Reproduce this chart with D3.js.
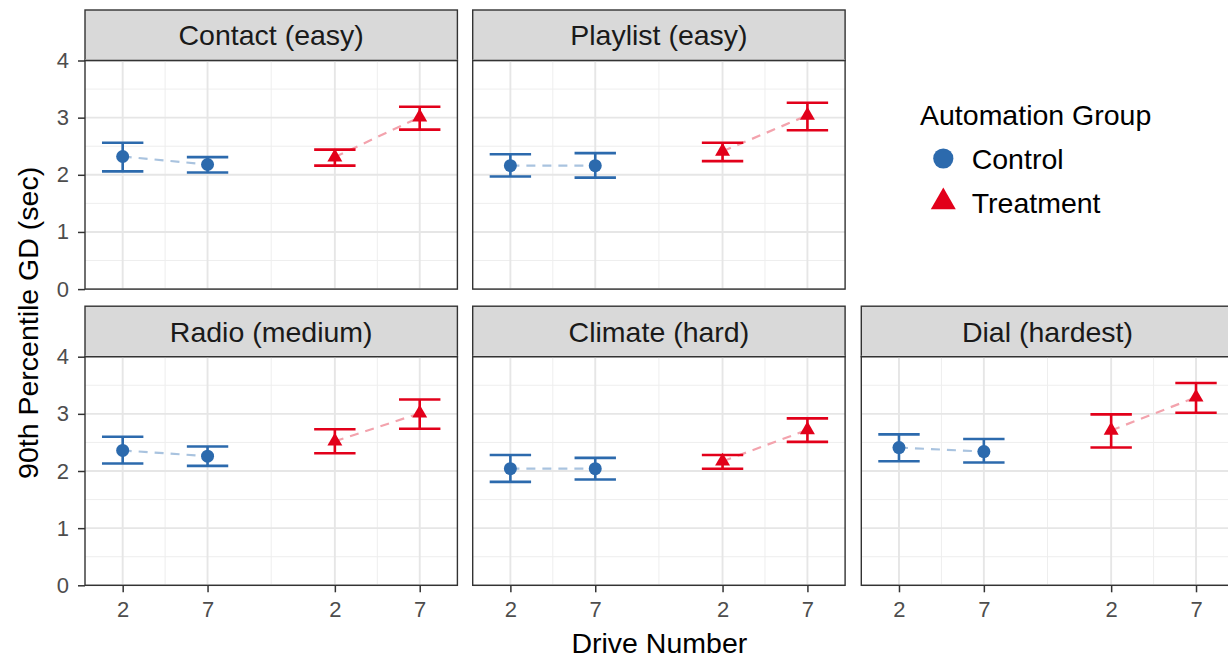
<!DOCTYPE html>
<html>
<head>
<meta charset="utf-8">
<script src="https://cdn.jsdelivr.net/npm/d3@7"></script>
<style>
  body { margin: 0; background: #fff; overflow: hidden; }
  text { font-family: "Liberation Sans", Arial, Helvetica, sans-serif; }
</style>
</head>
<body>
<svg id="chart" width="1228" height="657"></svg>
<script>
// data: per task, values in order [Control 2, Control 7, Treatment 2, Treatment 7]
const tasks = ["Contact (easy)", "Playlist (easy)", "Radio (medium)", "Climate (hard)", "Dial (hardest)"];
const groups = ["Control", "Treatment"];
const drives = [2, 7];
const gdMean = [
  [2.32, 2.18, 2.31, 3.01],
  [2.16, 2.16, 2.41, 3.04],
  [2.36, 2.26, 2.52, 3.01],
  [2.04, 2.04, 2.17, 2.72],
  [2.41, 2.34, 2.71, 3.29]
];
const gdLow = [
  [2.06, 2.04, 2.16, 2.79],
  [1.97, 1.95, 2.24, 2.78],
  [2.13, 2.09, 2.31, 2.74],
  [1.81, 1.85, 2.04, 2.51],
  [2.17, 2.15, 2.41, 3.02]
];
const gdHigh = [
  [2.56, 2.31, 2.44, 3.19],
  [2.36, 2.38, 2.56, 3.26],
  [2.60, 2.43, 2.73, 3.25],
  [2.28, 2.23, 2.28, 2.92],
  [2.64, 2.56, 2.99, 3.54]
];
const yTicks = [0, 1, 2, 3, 4];

const groupColor = ["#2c6aad", "#e2001a"];
const lineColor = ["#a9c3df", "#f3a3ad"];

// layout
const panelW = 372.4, panelH = 228.6, stripH = 50.5;
const colX = [85, 472.7, 861.3];
const rowY = [60.5, 356.7]; // top of plotting area
const groupShift = 12.5;   // gap between the two groups on the x axis

const svg = d3.select("#chart");

const x = d3.scaleLinear().domain([-0.22, 21.72]).range([0, panelW]);
const y = d3.scaleLinear().domain([0, 4]).range([panelH, 0]);

// long table
const rows = [];
tasks.forEach((t, ti) => {
  groups.forEach((g, gi) => {
    drives.forEach((d, di) => {
      const k = gi * 2 + di;
      rows.push({ task: t, ti, group: g, gi, drive: d, xv: d + gi * groupShift,
        mean: gdMean[ti][k], lo: gdLow[ti][k], hi: gdHigh[ti][k] });
    });
  });
});

const majorX = [];
groups.forEach((g, gi) => drives.forEach(d => majorX.push(d + gi * groupShift)));
const minorX = d3.pairs(majorX).map(([a, b]) => (a + b) / 2);
const minorY = d3.pairs(yTicks).map(([a, b]) => (a + b) / 2);

const circleSym = d3.symbol(d3.symbolCircle, 133);
const triSym = d3.symbol(d3.symbolTriangle, 97);
const capHalf = 20.7;

tasks.forEach((task, ti) => {
  const row = ti < 2 ? 0 : 1;
  const col = ti < 2 ? ti : ti - 2;
  const px = colX[col], py = rowY[row];
  const g = svg.append("g").attr("transform", `translate(${px},${py})`);
  const data = rows.filter(r => r.ti === ti);

  // strip
  g.append("rect")
    .attr("x", 0).attr("y", -stripH)
    .attr("width", panelW).attr("height", stripH)
    .attr("fill", "#d9d9d9").attr("stroke", "#333").attr("stroke-width", 1.4);
  g.append("text")
    .attr("x", panelW / 2).attr("y", -stripH / 2 + 0.358 * 28.5)
    .attr("text-anchor", "middle")
    .attr("font-size", 28.5).attr("fill", "#1a1a1a")
    .text(task);

  // grid
  g.selectAll(".minx").data(minorX).enter().append("line")
    .attr("x1", d => x(d)).attr("x2", d => x(d)).attr("y1", 0).attr("y2", panelH)
    .attr("stroke", "#eeeeee").attr("stroke-width", 1);
  g.selectAll(".miny").data(minorY).enter().append("line")
    .attr("x1", 0).attr("x2", panelW).attr("y1", d => y(d)).attr("y2", d => y(d))
    .attr("stroke", "#eeeeee").attr("stroke-width", 1);
  g.selectAll(".majx").data(majorX).enter().append("line")
    .attr("x1", d => x(d)).attr("x2", d => x(d)).attr("y1", 0).attr("y2", panelH)
    .attr("stroke", "#e6e6e6").attr("stroke-width", 1.9);
  g.selectAll(".majy").data(yTicks).enter().append("line")
    .attr("x1", 0).attr("x2", panelW).attr("y1", d => y(d)).attr("y2", d => y(d))
    .attr("stroke", "#e6e6e6").attr("stroke-width", 1.9);

  // dashed connecting lines
  const line = d3.line().x(d => x(d.xv)).y(d => y(d.mean));
  groups.forEach((grp, gi) => {
    g.append("path")
      .datum(data.filter(d => d.gi === gi))
      .attr("d", line)
      .attr("fill", "none")
      .attr("stroke", lineColor[gi])
      .attr("stroke-width", 2.2)
      .attr("stroke-dasharray", "9,7");
  });

  // error bars
  const eb = g.selectAll(".eb").data(data).enter().append("g")
    .attr("stroke", d => groupColor[d.gi]).attr("stroke-width", 2.6);
  eb.append("line")
    .attr("x1", d => x(d.xv)).attr("x2", d => x(d.xv))
    .attr("y1", d => y(d.lo)).attr("y2", d => y(d.hi));
  eb.append("line")
    .attr("x1", d => x(d.xv) - capHalf).attr("x2", d => x(d.xv) + capHalf)
    .attr("y1", d => y(d.hi)).attr("y2", d => y(d.hi));
  eb.append("line")
    .attr("x1", d => x(d.xv) - capHalf).attr("x2", d => x(d.xv) + capHalf)
    .attr("y1", d => y(d.lo)).attr("y2", d => y(d.lo));

  // points
  g.selectAll(".pt").data(data).enter().append("path")
    .attr("transform", d => `translate(${x(d.xv)},${y(d.mean)})`)
    .attr("d", d => d.gi === 0 ? circleSym() : triSym())
    .attr("fill", d => groupColor[d.gi]);

  // panel border
  g.append("rect")
    .attr("width", panelW).attr("height", panelH)
    .attr("fill", "none").attr("stroke", "#333").attr("stroke-width", 1.4);

  // y axis on first column
  if (col === 0) {
    const ya = g.append("g").call(d3.axisLeft(y).tickValues(yTicks).tickFormat(d3.format("d"))
      .tickSize(7).tickPadding(9));
    ya.select(".domain").remove();
    ya.selectAll(".tick line").attr("stroke", "#333").attr("stroke-width", 1.5);
    ya.selectAll(".tick text").attr("font-size", 22).attr("fill", "#4d4d4d")
      .attr("font-family", "Liberation Sans, Arial, sans-serif");
  }
  // x axis on bottom row
  if (row === 1) {
    const xa = g.append("g").attr("transform", `translate(0,${panelH})`)
      .call(d3.axisBottom(x).tickValues(majorX).tickFormat((v, i) => drives[i % drives.length])
        .tickSize(7).tickPadding(9.4));
    xa.select(".domain").remove();
    xa.selectAll(".tick line").attr("stroke", "#333").attr("stroke-width", 1.5);
    xa.selectAll(".tick text").attr("font-size", 22).attr("fill", "#4d4d4d")
      .attr("font-family", "Liberation Sans, Arial, sans-serif");
  }
});

// axis titles
svg.append("text")
  .attr("x", colX[0] + (colX[2] + panelW - colX[0]) / 2)
  .attr("y", 652.5)
  .attr("text-anchor", "middle")
  .attr("font-size", 28.5).attr("fill", "#000")
  .text("Drive Number");

svg.append("text")
  .attr("transform", `translate(37.5,${(rowY[0] + rowY[1] + panelH) / 2}) rotate(-90)`)
  .attr("text-anchor", "middle")
  .attr("font-size", 28.5).attr("fill", "#000")
  .text("90th Percentile GD (sec)");

// legend
const legend = svg.append("g").attr("transform", "translate(920,0)");
legend.append("text")
  .attr("x", 0).attr("y", 125)
  .attr("font-size", 28.5).attr("fill", "#000")
  .text("Automation Group");
const legSym = [d3.symbol(d3.symbolCircle, 320), d3.symbol(d3.symbolTriangle, 270)];
const legY = [158.5, 202];
groups.forEach((grp, gi) => {
  legend.append("path")
    .attr("transform", `translate(23.3,${legY[gi]})`)
    .attr("d", legSym[gi]())
    .attr("fill", groupColor[gi]);
  legend.append("text")
    .attr("x", 51.7).attr("y", legY[gi] + 10.5)
    .attr("font-size", 28.5).attr("fill", "#000")
    .text(grp);
});
</script>
</body>
</html>
